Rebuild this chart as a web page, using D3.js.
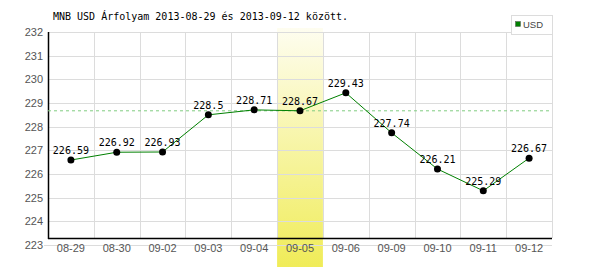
<!DOCTYPE html>
<html><head><meta charset="utf-8">
<script src="https://cdn.jsdelivr.net/npm/d3@7"></script>
<style>body{margin:0;background:#fff}svg{display:block}</style>
</head><body>
<script>
const categories = ["08-29","08-30","09-02","09-03","09-04","09-05","09-06","09-09","09-10","09-11","09-12"];
const values = [226.59,226.92,226.93,228.5,228.71,228.67,229.43,227.74,226.21,225.29,226.67];
const yTicks = [223,224,225,226,227,228,229,230,231,232];
const highlightIndex = 5;
const refValue = 228.67;
const title = "MNB USD Árfolyam 2013-08-29 és 2013-09-12 között.";
const seriesName = "USD";

const W = 600, H = 270;
const L = 48, R = 552, T = 32, B = 245;
const svg = d3.select("body").append("svg").attr("width", W).attr("height", H);

const x = d3.scaleBand().domain(categories).range([L, R]).padding(0);
const y = d3.scaleLinear().domain([223, 232]).range([B, T]);

// highlight gradient
const defs = svg.append("defs");
const grad = defs.append("linearGradient").attr("id","hl").attr("x1",0).attr("y1",0).attr("x2",0).attr("y2",1);
grad.append("stop").attr("offset","0%").attr("stop-color","#fefdf0");
grad.append("stop").attr("offset","100%").attr("stop-color","#f0ec58");
svg.append("rect")
  .attr("x", x(categories[highlightIndex])).attr("y", 28)
  .attr("width", x.bandwidth()).attr("height", 267 - 28)
  .attr("fill", "url(#hl)");

// grid
svg.append("g").selectAll("line").data(yTicks).join("line")
  .attr("x1", d => d === 223 ? 44 : L).attr("x2", R)
  .attr("y1", d => Math.round(y(d)) + 0.5).attr("y2", d => Math.round(y(d)) + 0.5)
  .attr("stroke", "#dcdcdc").attr("stroke-width", 1);
const vx = categories.map(c => x(c)).concat([R]);
svg.append("g").selectAll("line").data(vx.slice(1)).join("line")
  .attr("x1", d => Math.round(d) + 0.5).attr("x2", d => Math.round(d) + 0.5)
  .attr("y1", T).attr("y2", 238)
  .attr("stroke", "#dcdcdc");

// axes lines
svg.append("line").attr("x1", L + 0.5).attr("x2", L + 0.5).attr("y1", T).attr("y2", 239).attr("stroke", "#000").attr("stroke-width", 1.5);
svg.append("line").attr("x1", L).attr("x2", R).attr("y1", 238.5).attr("y2", 238.5).attr("stroke", "#000").attr("stroke-width", 1.5);

// y labels
svg.append("g").selectAll("text").data(yTicks).join("text")
  .attr("x", 43).attr("y", d => y(d)).attr("dy", "0.35em")
  .attr("text-anchor", "end").attr("fill", "#555")
  .style("font", "11px 'Liberation Sans'").text(d => d);

// x labels
svg.append("g").selectAll("text").data(categories).join("text")
  .attr("x", d => x(d) + x.bandwidth()/2).attr("y", 248).attr("dy", "0.35em")
  .attr("text-anchor", "middle").attr("fill", "#555")
  .style("font", "11px 'Liberation Sans'").text(d => d);

// reference dashed line
svg.append("line").attr("x1", L).attr("x2", R)
  .attr("y1", y(refValue)).attr("y2", y(refValue))
  .attr("stroke", "#80cc80").attr("stroke-dasharray", "3,3");

// series line
const line = d3.line().x((d,i) => x(categories[i]) + x.bandwidth()/2).y(d => y(d));
svg.append("path").datum(values).attr("d", line).attr("fill","none").attr("stroke","#008000").attr("stroke-width",1);

// dots
svg.append("g").selectAll("circle").data(values).join("circle")
  .attr("cx", (d,i) => x(categories[i]) + x.bandwidth()/2).attr("cy", d => y(d))
  .attr("r", 3.5).attr("fill", "#000");

// value labels
svg.append("g").selectAll("text").data(values).join("text")
  .attr("x", (d,i) => x(categories[i]) + x.bandwidth()/2).attr("y", d => y(d) - 6)
  .attr("text-anchor", "middle").attr("fill", "#000")
  .style("font", "10px 'DejaVu Sans Mono'").text(d => d);

// title
svg.append("text").attr("x", 53).attr("y", 20).attr("fill", "#000")
  .style("font", "10px 'DejaVu Sans Mono'").text(title);

// legend
svg.append("rect").attr("x", 511.5).attr("y", 15.5).attr("width", 41).attr("height", 19)
  .attr("fill", "#fff").attr("stroke", "#dcdcdc");
svg.append("rect").attr("x", 515.5).attr("y", 21.5).attr("width", 5).attr("height", 5)
  .attr("fill", "#008000").attr("stroke", "#555").attr("stroke-width", 0.5);
svg.append("text").attr("x", 523).attr("y", 25).attr("dy", "0.35em").attr("fill", "#444")
  .style("font", "9.5px 'Liberation Sans'").text(seriesName);
</script>
</body></html>
